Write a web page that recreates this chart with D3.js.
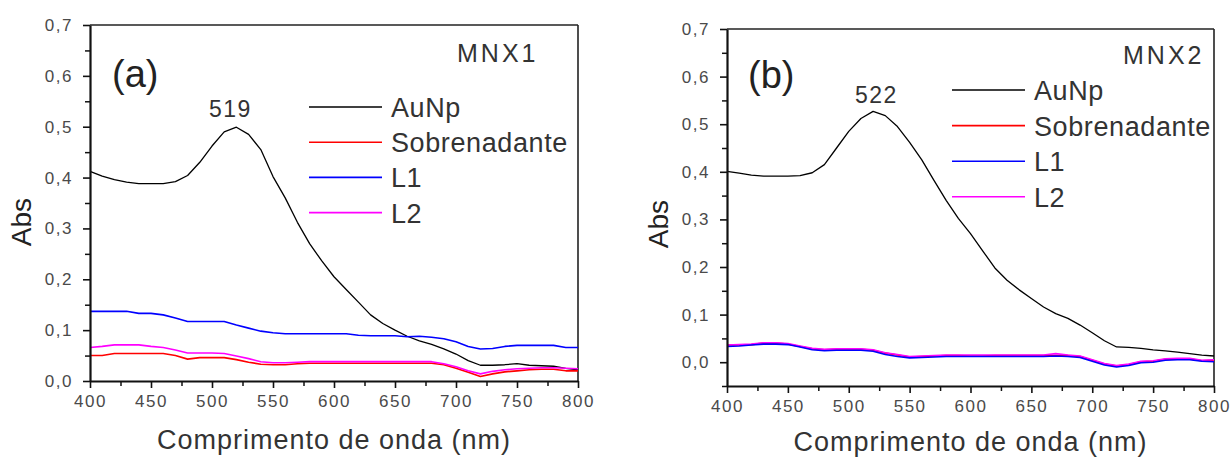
<!DOCTYPE html>
<html><head><meta charset="utf-8">
<script src="https://cdn.jsdelivr.net/npm/d3@7"></script>
<style>
html,body{margin:0;padding:0;background:#fff;}
svg{display:block;font-family:"Liberation Sans",Arial,sans-serif;}
</style></head>
<body><svg id="c" width="1232" height="459"></svg>
<script>
// ---- data ----
const wavelengths = [400,410,420,430,440,450,460,470,480,490,500,510,520,530,540,550,560,570,580,590,600,610,620,630,640,650,660,670,680,690,700,710,720,730,740,750,760,770,780,790,800];

// panel (a) MNX1
const aAuNp = [0.412,0.403,0.396,0.391,0.388,0.388,0.388,0.392,0.404,0.430,0.462,0.490,0.499,0.485,0.455,0.402,0.360,0.312,0.270,0.236,0.205,0.180,0.155,0.130,0.113,0.100,0.088,0.079,0.072,0.063,0.053,0.040,0.031,0.031,0.032,0.034,0.031,0.030,0.029,0.025,0.022];
const aSob  = [0.050,0.050,0.054,0.054,0.054,0.054,0.054,0.050,0.043,0.046,0.046,0.046,0.042,0.037,0.033,0.032,0.032,0.034,0.035,0.035,0.035,0.035,0.035,0.035,0.035,0.035,0.035,0.035,0.035,0.032,0.025,0.017,0.009,0.014,0.018,0.020,0.022,0.023,0.023,0.020,0.020];
const aL1   = [0.137,0.137,0.137,0.137,0.133,0.133,0.130,0.124,0.117,0.117,0.117,0.117,0.110,0.104,0.098,0.095,0.093,0.093,0.093,0.093,0.093,0.093,0.090,0.089,0.089,0.089,0.087,0.088,0.086,0.083,0.077,0.068,0.063,0.064,0.068,0.070,0.070,0.070,0.070,0.066,0.066];
const aL2   = [0.066,0.068,0.071,0.071,0.071,0.068,0.066,0.061,0.055,0.055,0.055,0.054,0.049,0.044,0.038,0.036,0.036,0.037,0.038,0.038,0.038,0.038,0.038,0.038,0.038,0.038,0.038,0.038,0.038,0.034,0.028,0.020,0.014,0.019,0.022,0.024,0.025,0.026,0.026,0.025,0.024];

// panel (b) MNX2
const bAuNp = [0.401,0.397,0.393,0.391,0.391,0.391,0.392,0.398,0.415,0.450,0.485,0.512,0.527,0.518,0.495,0.462,0.425,0.382,0.340,0.302,0.270,0.234,0.198,0.172,0.152,0.134,0.116,0.102,0.092,0.078,0.062,0.045,0.032,0.031,0.029,0.026,0.024,0.021,0.018,0.015,0.013];
const bSob  = [0.036,0.036,0.037,0.040,0.040,0.038,0.033,0.028,0.026,0.027,0.027,0.027,0.025,0.019,0.015,0.011,0.012,0.013,0.014,0.014,0.013,0.013,0.014,0.014,0.014,0.014,0.014,0.014,0.014,0.012,0.004,-0.004,-0.008,-0.005,0.001,0.002,0.006,0.007,0.007,0.003,0.004];
const bL1   = [0.033,0.034,0.036,0.038,0.038,0.037,0.032,0.026,0.024,0.025,0.025,0.025,0.023,0.016,0.012,0.009,0.010,0.011,0.012,0.012,0.012,0.012,0.012,0.012,0.012,0.012,0.012,0.013,0.012,0.010,0.002,-0.006,-0.010,-0.007,-0.001,0.000,0.004,0.005,0.005,0.002,0.001];
const bL2   = [0.036,0.037,0.038,0.041,0.041,0.039,0.034,0.029,0.027,0.028,0.028,0.028,0.026,0.020,0.016,0.012,0.013,0.014,0.015,0.015,0.015,0.015,0.015,0.015,0.015,0.015,0.015,0.018,0.015,0.013,0.005,-0.003,-0.007,-0.004,0.002,0.003,0.007,0.008,0.008,0.004,0.005];

const seriesNames = ["AuNp","Sobrenadante","L1","L2"];
const seriesColors = ["#000000","#ff0000","#0000ff","#ff00ff"];
const xMajorTicks = [400,450,500,550,600,650,700,750,800];
const xMinorTicks = [425,475,525,575,625,675,725,775];
const yMajorTicks = [0,0.1,0.2,0.3,0.4,0.5,0.6,0.7];
const yMinorTicksA = [0.05,0.15,0.25,0.35,0.45,0.55,0.65];
const yMinorTicksB = [-0.05,0.05,0.15,0.25,0.35,0.45,0.55,0.65];
const panelLabels = ["(a)","(b)"];
const sampleNames = ["MNX1","MNX2"];
const peakLabels = ["519","522"];
const xTitle = "Comprimento de onda (nm)";
const yTitle = "Abs";

// ---- drawing ----
const svg = d3.select("#c");
const fmt = v => d3.format(".1f")(v).replace(".", ",");

function panel(cfg) {
  const x = d3.scaleLinear().domain([400,800]).range([cfg.l, cfg.r]);
  const y = d3.scaleLinear().domain(cfg.yDomain).range([cfg.b, cfg.t]);
  const g = svg.append("g");

  // frame top/right
  g.append("line").attr("x1", cfg.l).attr("x2", cfg.r).attr("y1", cfg.t).attr("y2", cfg.t)
    .attr("stroke","#222").attr("stroke-width",1.6);
  g.append("line").attr("x1", cfg.r).attr("x2", cfg.r).attr("y1", cfg.t).attr("y2", cfg.b)
    .attr("stroke","#222").attr("stroke-width",1.6);

  // series lines
  const line = d3.line().x((d,i)=>x(wavelengths[i])).y(d=>y(d));
  cfg.order.forEach(k => {
    g.append("path").datum(cfg.data[k]).attr("d", line).attr("fill","none")
      .attr("stroke", seriesColors[k]).attr("stroke-width", k===0 ? 1.3 : 1.6)
      .attr("stroke-linejoin","round");
  });

  // minor ticks
  g.append("g").attr("transform",`translate(0,${cfg.b})`)
    .call(d3.axisBottom(x).tickValues(xMinorTicks).tickSize(5).tickFormat("").tickSizeOuter(0))
    .call(s=>s.select(".domain").remove())
    .call(s=>s.selectAll("line").attr("stroke","#111").attr("stroke-width",1.5));
  g.append("g").attr("transform",`translate(${cfg.l},0)`)
    .call(d3.axisLeft(y).tickValues(cfg.yMinor).tickSize(5).tickFormat("").tickSizeOuter(0))
    .call(s=>s.select(".domain").remove())
    .call(s=>s.selectAll("line").attr("stroke","#111").attr("stroke-width",1.5));

  // major axes
  const xa = g.append("g").attr("transform",`translate(0,${cfg.b})`)
    .call(d3.axisBottom(x).tickValues(xMajorTicks).tickSize(7).tickPadding(7).tickSizeOuter(0));
  const ya = g.append("g").attr("transform",`translate(${cfg.l},0)`)
    .call(d3.axisLeft(y).tickValues(yMajorTicks).tickFormat(fmt).tickSize(7).tickPadding(10).tickSizeOuter(0));
  [xa,ya].forEach(a=>{
    a.select(".domain").attr("stroke","#111").attr("stroke-width",2.2);
    a.selectAll(".tick line").attr("stroke","#111").attr("stroke-width",1.6);
    a.selectAll("text").attr("font-family","Liberation Sans, Arial, sans-serif")
      .attr("font-size",17).attr("fill","#4a4a4a").style("letter-spacing","1.5px");
  });

  // axis titles
  g.append("text").attr("x",(cfg.l+cfg.r)/2).attr("y",cfg.xTitleY).attr("text-anchor","middle")
    .attr("font-size",27).attr("fill","#333").style("letter-spacing","1px").text(xTitle);
  g.append("text").attr("transform",`translate(${cfg.yTitleX},${cfg.yTitleY}) rotate(-90)`)
    .attr("text-anchor","middle").attr("font-size",28).attr("fill","#222").text(yTitle);

  // annotations
  g.append("text").attr("x",cfg.panelX).attr("y",cfg.panelY).attr("font-size",38).attr("fill","#222").text(cfg.panelLabel);
  g.append("text").attr("x",cfg.peakX).attr("y",cfg.peakY).attr("font-size",23).attr("fill","#333")
    .style("letter-spacing","1.5px").text(cfg.peakLabel);
  g.append("text").attr("x",cfg.nameX).attr("y",cfg.nameY).attr("font-size",25).attr("fill","#333")
    .style("letter-spacing","3px").text(cfg.name);

  // legend
  seriesNames.forEach((n,i)=>{
    const yy = cfg.legY + i*cfg.legDy;
    g.append("line").attr("x1",cfg.legX).attr("x2",cfg.legX+73).attr("y1",yy).attr("y2",yy)
      .attr("stroke",seriesColors[i]).attr("stroke-width",1.6);
    g.append("text").attr("x",cfg.legX+82).attr("y",yy+10).attr("font-size",27).attr("fill","#333")
      .style("letter-spacing","0.6px").text(n);
  });
}

panel({l:90, r:578, t:25, b:381, yDomain:[0,0.7], yMinor:yMinorTicksA,
  data:[aAuNp,aSob,aL1,aL2], order:[0,1,2,3],
  xTitleY:449, yTitleX:31, yTitleY:222,
  panelLabel:panelLabels[0], panelX:112, panelY:87,
  peakLabel:peakLabels[0], peakX:209, peakY:117,
  name:sampleNames[0], nameX:457, nameY:62,
  legX:309, legY:107, legDy:35.2});

panel({l:727, r:1214, t:29, b:386, yDomain:[-0.05,0.7], yMinor:yMinorTicksB,
  data:[bAuNp,bSob,bL1,bL2], order:[0,1,3,2],
  xTitleY:451, yTitleX:668, yTitleY:224,
  panelLabel:panelLabels[1], panelX:748, panelY:88,
  peakLabel:peakLabels[1], peakX:855, peakY:103,
  name:sampleNames[1], nameX:1123, nameY:64,
  legX:952, legY:90, legDy:35.6});
</script></body></html>
